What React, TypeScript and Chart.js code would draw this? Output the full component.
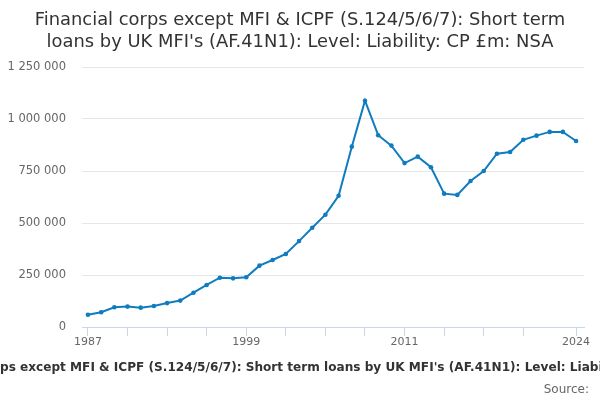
import React, { useEffect, useRef } from 'react';
import { Chart, registerables } from 'chart.js';

Chart.register(...registerables);

const titleLines = [
  'Financial corps except MFI & ICPF (S.124/5/6/7): Short term',
  "loans by UK MFI's (AF.41N1): Level: Liability: CP £m: NSA",
];
const caption =
  "Financial corps except MFI & ICPF (S.124/5/6/7): Short term loans by UK MFI's (AF.41N1): Level: Liability: CP £m: NSA";
const captionCut = 'Financial cor';
const sourceText = 'Source:';

const years = [
  1987, 1988, 1989, 1990, 1991, 1992, 1993, 1994, 1995, 1996,
  1997, 1998, 1999, 2000, 2001, 2002, 2003, 2004, 2005, 2006,
  2007, 2008, 2009, 2010, 2011, 2012, 2013, 2014, 2015, 2016,
  2017, 2018, 2019, 2020, 2021, 2022, 2023, 2024,
];
const values = [
  59000, 71000, 95000, 98000, 93000, 101000, 115000, 127000, 165000, 202000,
  237000, 234000, 239000, 295000, 322000, 351000, 413000, 477000, 540000, 631000,
  867000, 1088000, 922000, 872000, 788000, 819000, 768000, 641000, 635000, 702000,
  750000, 833000, 841000, 900000, 920000, 938000, 938000, 894000,
];
const yTicks = [0, 250000, 500000, 750000, 1000000, 1250000];
const xTickYears = [1987, 1990, 1993, 1996, 1999, 2002, 2005, 2008, 2011, 2014, 2017, 2020, 2024];
const xLabelYears = [1987, 1999, 2011, 2024];

const FONT = '"DejaVu Sans", sans-serif';
const LINE = '#0f7cc0';

const formatNum = (v: number) => String(v).replace(/\B(?=(\d{3})+(?!\d))/g, ' ');

// draws the title, the clipped caption and the source line
const textPlugin = {
  id: 'textPlugin',
  afterDraw(chart: Chart) {
    const ctx = chart.ctx;
    ctx.save();
    ctx.fillStyle = '#333333';
    ctx.font = `17.9px ${FONT}`;
    ctx.textAlign = 'center';
    ctx.textBaseline = 'alphabetic';
    ctx.fillText(titleLines[0], 300, 25);
    ctx.fillText(titleLines[1], 300, 47);

    ctx.font = `bold 12.1px ${FONT}`;
    ctx.textAlign = 'left';
    ctx.textBaseline = 'middle';
    const offset = ctx.measureText(captionCut).width;
    ctx.fillText(caption, -offset, 368);

    ctx.font = `12px ${FONT}`;
    ctx.fillStyle = '#666666';
    ctx.textAlign = 'right';
    ctx.fillText(sourceText, 589, 390);
    ctx.restore();
  },
};

const App: React.FC = () => {
  const chartRef = useRef<HTMLCanvasElement>(null);
  const chartInstance = useRef<Chart | null>(null);

  useEffect(() => {
    if (!chartRef.current) return;
    if (chartInstance.current) chartInstance.current.destroy();

    chartInstance.current = new Chart(chartRef.current, {
      type: 'line',
      data: {
        datasets: [
          {
            data: years.map((y, i) => ({ x: y, y: values[i] })),
            borderColor: LINE,
            backgroundColor: LINE,
            pointBackgroundColor: LINE,
            pointBorderWidth: 0,
            pointRadius: 2.3,
            borderWidth: 2,
            tension: 0,
          },
        ],
      },
      options: {
        animation: false,
        responsive: true,
        maintainAspectRatio: false,
        layout: { padding: { top: 67, right: 16, left: 0, bottom: 0 } },
        plugins: {
          legend: { display: false },
          title: { display: false },
          tooltip: { enabled: false },
        },
        scales: {
          x: {
            type: 'linear',
            min: 1986.55,
            max: 2024.6,
            afterBuildTicks: (axis: any) => {
              axis.ticks = xTickYears.map((v) => ({ value: v }));
            },
            afterFit: (axis: any) => {
              axis.height = 73;
            },
            ticks: {
              autoSkip: false,
              maxRotation: 0,
              padding: 0,
              color: '#666666',
              font: { family: FONT, size: 11 },
              callback: (v: any) => (xLabelYears.includes(Number(v)) ? String(v) : ''),
            },
            grid: {
              drawOnChartArea: false,
              color: '#ccd6eb',
              tickLength: 9,
            },
            border: { color: '#ccd6eb', width: 1 },
          },
          y: {
            min: 0,
            max: 1250000,
            afterBuildTicks: (axis: any) => {
              axis.ticks = yTicks.map((v) => ({ value: v }));
            },
            afterFit: (axis: any) => {
              axis.width = 82;
            },
            ticks: {
              padding: 16,
              color: '#666666',
              font: { family: FONT, size: 11.5 },
              callback: (v: any) => formatNum(Number(v)),
            },
            grid: { color: '#e6e6e6', drawTicks: false },
            border: { display: false },
          },
        },
      },
      plugins: [textPlugin],
    });

    return () => {
      if (chartInstance.current) {
        chartInstance.current.destroy();
        chartInstance.current = null;
      }
    };
  }, []);

  return (
    <div style={{ position: 'absolute', left: 0, top: 0, width: 600, height: 400, background: '#fff' }}>
      <canvas ref={chartRef}></canvas>
    </div>
  );
};

export default App;
